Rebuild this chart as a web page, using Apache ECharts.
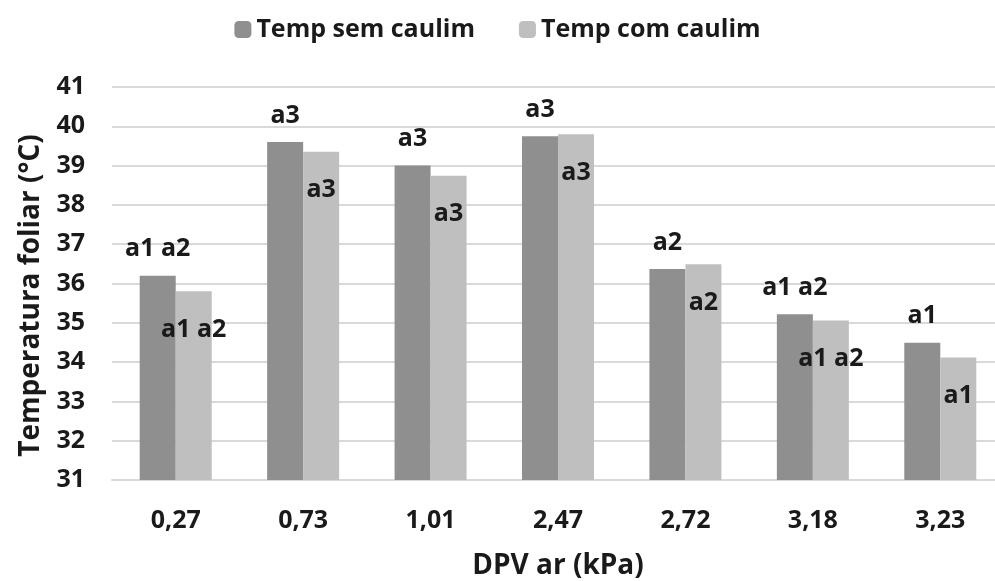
<!DOCTYPE html>
<html>
<head>
<meta charset="utf-8">
<script src="https://cdn.jsdelivr.net/npm/echarts@6/dist/echarts.min.js"></script>
<style>
  html, body { margin: 0; padding: 0; background: #fff; }
  #chart { width: 995px; height: 581px; }
</style>
</head>
<body>
<div id="chart"></div>
<script>
// categorias (DPV do ar, kPa)
const categories = ['0,27', '0,73', '1,01', '2,47', '2,72', '3,18', '3,23']
// temperatura foliar (°C)
const semCaulim = [36.2, 39.6, 39.0, 39.75, 36.37, 35.22, 34.49]
const comCaulim = [35.8, 39.35, 38.74, 39.8, 36.49, 35.06, 34.12]
// letras de significância
const semLetras = ['a1 a2', 'a3', 'a3', 'a3', 'a2', 'a1 a2', 'a1']
const comLetras = ['a1 a2', 'a3', 'a3', 'a3', 'a2', 'a1 a2', 'a1']
const yTicks = [31, 41, 1] // min, max, intervalo

const font = '"Open Sans", sans-serif'
const txt = { fontFamily: font, fontWeight: 'bold', color: '#1a1a1a' }

const chart = echarts.init(document.getElementById('chart'))
chart.setOption({
  animation: false,
  legend: {
    top: 12,
    left: 'center',
    itemWidth: 17,
    itemHeight: 17,
    itemGap: 44,
    textStyle: { ...txt, fontSize: 25 },
    data: ['Temp sem caulim', 'Temp com caulim']
  },
  grid: { left: 112, top: 87, width: 892, bottom: 101, outerBoundsMode: 'none' },
  xAxis: {
    type: 'category',
    data: categories,
    name: 'DPV ar (kPa)',
    nameLocation: 'middle',
    nameGap: 72,
    nameTextStyle: { ...txt, fontSize: 28 },
    axisLine: { lineStyle: { color: '#d9d9d9', width: 2 } },
    axisTick: { show: false },
    axisLabel: { ...txt, fontSize: 25, margin: 28 }
  },
  yAxis: {
    type: 'value',
    min: yTicks[0],
    max: yTicks[1],
    interval: yTicks[2],
    name: 'Temperatura foliar (°C)',
    nameLocation: 'middle',
    nameGap: 67,
    nameTextStyle: { ...txt, fontSize: 28, padding: [0, 24, 0, 0] },
    axisLine: { show: false },
    axisTick: { show: false },
    axisLabel: { ...txt, fontSize: 25, margin: 27 },
    splitLine: { lineStyle: { color: '#d9d9d9', width: 2 } }
  },
  series: [
    {
      name: 'Temp sem caulim',
      type: 'bar',
      data: semCaulim,
      barWidth: 36,
      barGap: '0%',
      itemStyle: { color: '#8f8f8f' },
      label: {
        show: true,
        position: 'top',
        distance: 14,
        ...txt,
        fontSize: 25,
        formatter: p => semLetras[p.dataIndex]
      }
    },
    {
      name: 'Temp com caulim',
      type: 'bar',
      data: comCaulim,
      barWidth: 36,
      itemStyle: { color: '#bfbfbf' },
      label: {
        show: true,
        position: 'insideTop',
        distance: 26,
        ...txt,
        fontSize: 25,
        formatter: p => comLetras[p.dataIndex]
      }
    }
  ]
})
</script>
</body>
</html>
